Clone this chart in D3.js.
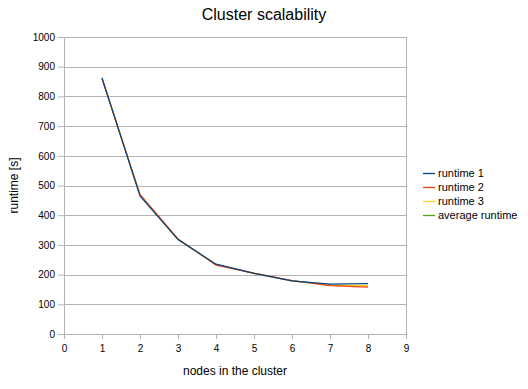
<!DOCTYPE html>
<html>
<head>
<meta charset="utf-8">
<script src="https://cdn.jsdelivr.net/npm/d3@7"></script>
<style>
  body { margin: 0; background: #fff; }
  text { font-family: "Liberation Sans", Arial, sans-serif; fill: #000; }
</style>
</head>
<body>
<div id="chart"></div>
<script>
var nodes = [1, 2, 3, 4, 5, 6, 7, 8];
var runtime1 = [862, 465, 318, 235, 204, 179, 168, 170];
var runtime2 = [860, 470, 320, 232, 205, 180, 163, 158];
var runtime3 = [862, 467, 318, 234, 204, 179, 165, 162];
var averageRuntime = [861, 467, 319, 234, 204, 179, 165, 164];
var seriesNames = ["runtime 1", "runtime 2", "runtime 3", "average runtime"];
var seriesColors = ["#004586", "#ff420e", "#ffd320", "#579d1c"];
var xTicks = [0, 1, 2, 3, 4, 5, 6, 7, 8, 9];
var yTicks = [0, 100, 200, 300, 400, 500, 600, 700, 800, 900, 1000];

var margin = {top: 37, right: 122, bottom: 55, left: 64},
    width = 528 - margin.left - margin.right,
    height = 389 - margin.top - margin.bottom;

var svg = d3.select("#chart")
    .append("svg")
    .attr("width", 528)
    .attr("height", 389);

svg.append("text")
    .attr("x", 264)
    .attr("y", 20)
    .attr("text-anchor", "middle")
    .style("font-size", "16px")
    .text("Cluster scalability");

var g = svg.append("g")
    .attr("transform", "translate(" + margin.left + "," + margin.top + ")");

var x = d3.scaleLinear().domain([0, 9]).range([0, width]);
var y = d3.scaleLinear().domain([0, 1000]).range([height, 0]);

// gridlines
g.selectAll(".grid")
    .data(yTicks)
    .enter()
    .append("line")
    .attr("x1", 0)
    .attr("x2", width)
    .attr("y1", function (d) { return Math.round(y(d)) + 0.5; })
    .attr("y2", function (d) { return Math.round(y(d)) + 0.5; })
    .attr("stroke", "#b3b3b3");

g.append("line")
    .attr("x1", width + 0.5).attr("x2", width + 0.5)
    .attr("y1", 0).attr("y2", height)
    .attr("stroke", "#b3b3b3");

// axes
var yAxis = g.append("g")
    .call(d3.axisLeft(y).tickValues(yTicks).tickFormat(d3.format("d")).tickSize(6).tickPadding(3));
var xAxis = g.append("g")
    .attr("transform", "translate(0," + height + ")")
    .call(d3.axisBottom(x).tickValues(xTicks).tickSize(5).tickPadding(6));

[xAxis, yAxis].forEach(function (a) {
    a.select(".domain").attr("stroke", "#b3b3b3");
    a.selectAll(".tick line").attr("stroke", "#b3b3b3");
    a.selectAll(".tick text")
        .style("font-size", "10px")
        .style("font-family", "Liberation Sans, Arial, sans-serif")
        .attr("fill", "#000");
});
yAxis.select(".domain").attr("d", "M0.5,0V" + (height + 5));

// axis titles
svg.append("text")
    .attr("x", margin.left + width / 2)
    .attr("y", 375)
    .attr("text-anchor", "middle")
    .style("font-size", "12px")
    .text("nodes in the cluster");

svg.append("text")
    .attr("transform", "translate(18," + (margin.top + height / 2) + ")rotate(-90)")
    .attr("text-anchor", "middle")
    .style("font-size", "12px")
    .text("runtime [s]");

// lines, drawn last-to-first so runtime 1 sits on top
var allSeries = [runtime1, runtime2, runtime3, averageRuntime];
var line = d3.line()
    .x(function (d, i) { return x(nodes[i]); })
    .y(function (d) { return y(d); });

for (var s = allSeries.length - 1; s >= 0; s--) {
    g.append("path")
        .datum(allSeries[s])
        .attr("fill", "none")
        .attr("stroke", seriesColors[s])
        .attr("stroke-width", 1.2)
        .attr("d", line);
}

// legend
var legend = svg.append("g").attr("transform", "translate(423,173)");
seriesNames.forEach(function (name, i) {
    var row = legend.append("g").attr("transform", "translate(0," + (i * 14) + ")");
    row.append("line")
        .attr("x1", 0).attr("x2", 12)
        .attr("y1", 0.5).attr("y2", 0.5)
        .attr("stroke", seriesColors[i])
        .attr("stroke-width", 1.3);
    row.append("text")
        .attr("x", 15)
        .attr("y", 4)
        .style("font-size", "11px")
        .text(name);
});
</script>
</body>
</html>
